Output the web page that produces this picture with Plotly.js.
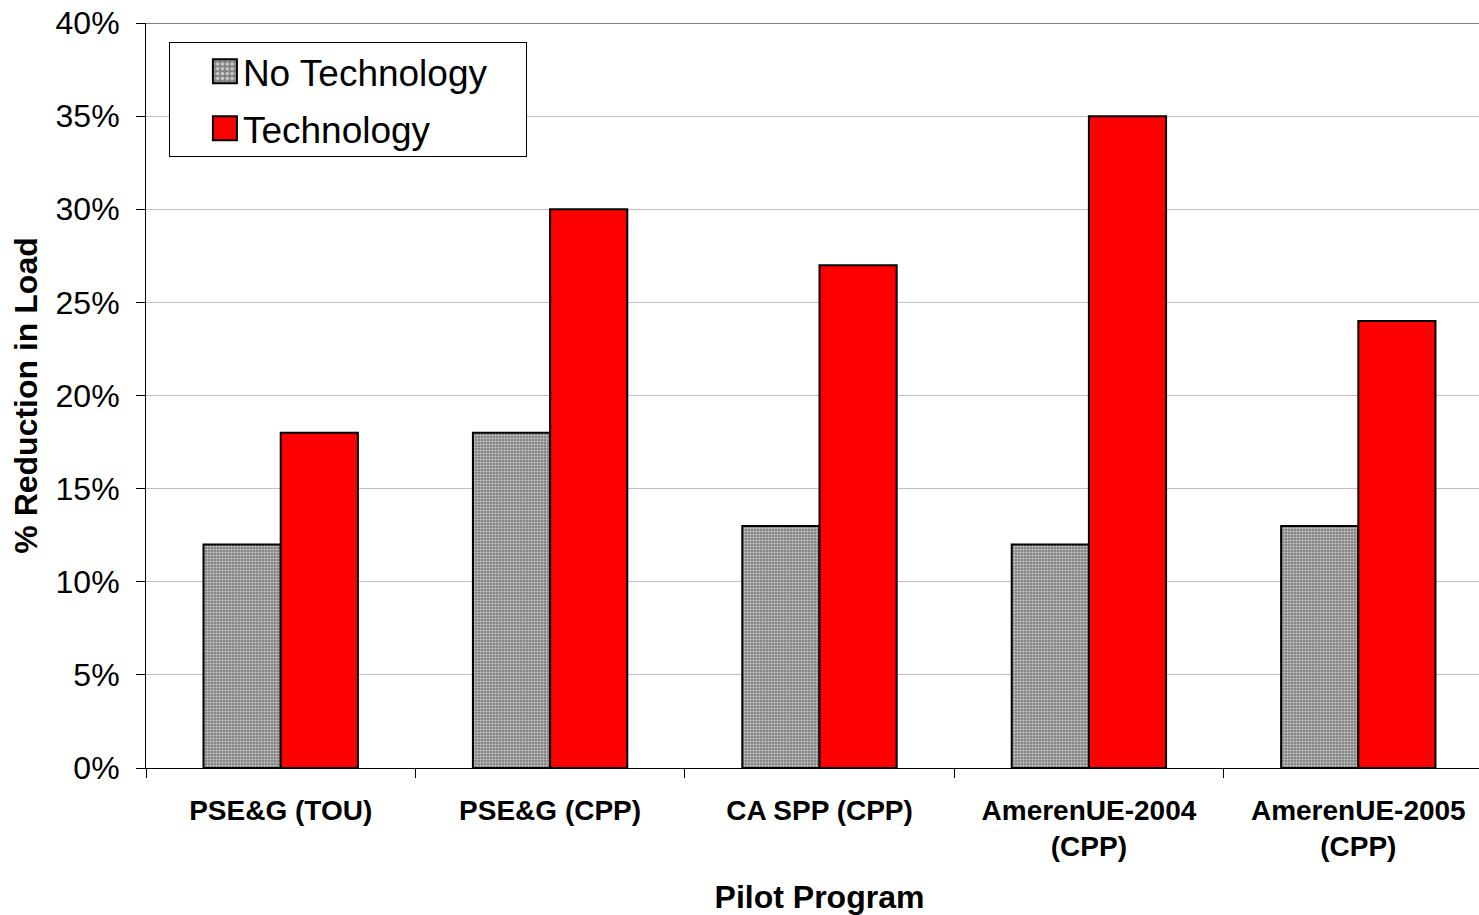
<!DOCTYPE html>
<html><head><meta charset="utf-8">
<script src="https://cdn.plot.ly/plotly-3.0.1.min.js"></script>
<style>html,body{margin:0;padding:0;overflow:hidden;background:#fff}</style>
</head><body>
<div id="chart" style="width:1493px;height:915px"></div>
<script>
const categories = ["PSE&G (TOU)", "PSE&G (CPP)", "CA SPP (CPP)", "AmerenUE-2004<br>(CPP)", "AmerenUE-2005<br>(CPP)"];
const noTechnology = [12, 18, 13, 12, 13];
const technology = [18, 30, 27, 35, 24];
const yTickVals = [0, 5, 10, 15, 20, 25, 30, 35, 40];
const yTickText = ["0%", "5%", "10%", "15%", "20%", "25%", "30%", "35%", "40%"];

const font = "Liberation Sans, Arial, sans-serif";
const traces = [
  {type: "bar", name: "No Technology", x: categories, y: noTechnology, legendgroup: "a",
   marker: {color: "#999999", line: {color: "#000", width: 2},
            pattern: {shape: ".", fgcolor: "#cccccc", bgcolor: "#828282", size: 3, solidity: 0.4}}},
  {type: "bar", name: "Technology", x: categories, y: technology, legendgroup: "b",
   marker: {color: "#ff0000", line: {color: "#000", width: 2}}}
];
const layout = {
  width: 1493, height: 915,
  margin: {l: 146, r: 0, t: 23, b: 147},
  paper_bgcolor: "#fff", plot_bgcolor: "#fff",
  barmode: "group", bargap: 0.427, bargroupgap: 0,
  showlegend: true,
  legend: {x: 0.017, y: 0.975, xanchor: "left", yanchor: "top",
           bgcolor: "#fff", bordercolor: "#000", borderwidth: 1, itemwidth: 63,
           font: {family: font, size: 37, color: "#000"}, tracegroupgap: 6},
  xaxis: {type: "category", tickson: "boundaries", ticks: "outside", ticklen: 9, tickcolor: "#000",
          showline: true, linecolor: "#000", linewidth: 1, showgrid: false, ticklabelstandoff: 17,
          tickfont: {family: font, size: 28, color: "#000", weight: "bold"},
          title: {text: "<b>Pilot Program</b>", font: {family: font, size: 32, color: "#000"}, standoff: 24}},
  yaxis: {range: [0, 40], tickvals: yTickVals, ticktext: yTickText, ticks: "outside", ticklen: 9, tickcolor: "#000",
          showline: true, linecolor: "#000", linewidth: 1, showgrid: true, gridcolor: "#c0c0c0", gridwidth: 1,
          zeroline: false, ticklabelstandoff: 10,
          tickfont: {family: font, size: 32, color: "#000"},
          title: {text: "<b>% Reduction in Load</b>", font: {family: font, size: 32, color: "#000"}, standoff: 8}},
  shapes: [{type: "line", xref: "paper", yref: "y", x0: 0, x1: 1, y0: 40, y1: 40, line: {color: "#808080", width: 2}}]
};
Plotly.newPlot("chart", traces, layout, {displayModeBar: false, staticPlot: true}).then(function () {
  document.querySelectorAll(".legend .legendpoints path").forEach(function (p) {
    p.setAttribute("transform", "translate(55,0) scale(2)");
    p.style.strokeWidth = "1px";
  });
  document.querySelectorAll(".legend .traces").forEach(function (t) {
    var tr = t.getAttribute("transform") || "";
    var m = tr.match(/translate\(\s*([-\d.]+)[ ,]+([-\d.]+)\s*\)/);
    if (m) t.setAttribute("transform", "translate(" + m[1] + "," + (parseFloat(m[2]) - 2) + ")");
  });
  var bg = document.querySelector(".legend rect.bg");
  if (bg) { bg.setAttribute("width", 357); bg.setAttribute("height", 114); }
});
</script>
</body></html>
